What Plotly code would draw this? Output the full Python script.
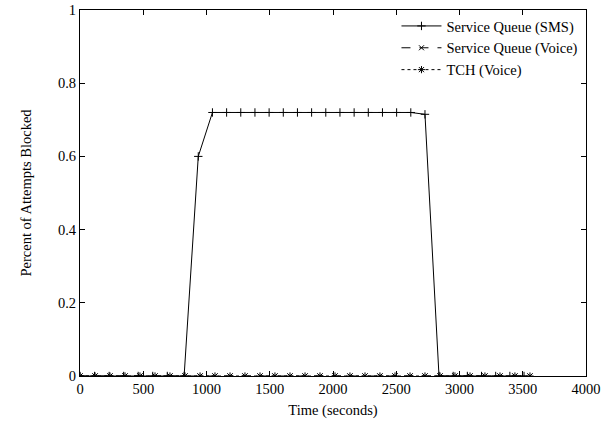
import plotly.graph_objects as go

sms_x = [0, 115, 230, 345, 460, 575, 690, 823, 935, 1047, 1159, 1271, 1383, 1495, 1607, 1719, 1831, 1943,
         2055, 2167, 2279, 2391, 2503, 2615, 2727, 2838, 2950, 3062, 3174, 3286, 3398, 3510]
sms_y = [0, 0, 0, 0, 0, 0, 0, 0, 0.6, 0.72, 0.72, 0.72, 0.72, 0.72, 0.72, 0.72, 0.72, 0.72,
         0.72, 0.72, 0.72, 0.72, 0.72, 0.72, 0.715, 0, 0, 0, 0, 0, 0, 0]
voice_x = [0, 119, 237, 356, 474, 593, 711, 830, 949, 1067, 1186, 1304, 1423, 1541, 1660, 1779,
           1897, 2016, 2134, 2253, 2371, 2490, 2609, 2727, 2846, 2964, 3083, 3201, 3320, 3438, 3557]
voice_y = [0] * len(voice_x)
tch_y = [0] * len(voice_x)

font = dict(family="Liberation Serif, Times New Roman, serif", size=14.5, color="black")
fig = go.Figure()
fig.add_trace(go.Scatter(x=sms_x, y=sms_y, mode="lines+markers", name="Service Queue (SMS)",
                         line=dict(color="black", width=1),
                         marker=dict(symbol="cross-thin", size=6, line=dict(color="black", width=1))))
fig.add_trace(go.Scatter(x=voice_x, y=voice_y, mode="lines+markers", name="Service Queue (Voice)",
                         line=dict(color="black", width=1, dash="dash"),
                         marker=dict(symbol="x-thin", size=5, line=dict(color="black", width=1))))
fig.add_trace(go.Scatter(x=voice_x, y=tch_y, mode="lines+markers", name="TCH (Voice)",
                         line=dict(color="black", width=1, dash="dot"),
                         marker=dict(symbol="asterisk", size=6, line=dict(color="black", width=1))))
ax = dict(showgrid=False, zeroline=False, showline=True, mirror="ticks", linecolor="black",
          ticks="inside", ticklen=5, tickcolor="black", tickfont=font, automargin=False)
fig.update_layout(width=608, height=426, paper_bgcolor="white", plot_bgcolor="white", font=font,
                  margin=dict(l=80, r=22, t=10, b=50), showlegend=True,
                  legend=dict(x=0.995, y=1.0, xanchor="right", yanchor="top", bgcolor="rgba(0,0,0,0)",
                              font=font, itemwidth=40, tracegroupgap=0))
fig.update_xaxes(range=[0, 4000], dtick=500, title=dict(text="Time (seconds)", font=font, standoff=8), **ax)
fig.update_yaxes(range=[0, 1], dtick=0.2, title=dict(text="Percent of Attempts Blocked", font=font, standoff=22), **ax)
fig.write_html("out.html", config={"displayModeBar": False},
               post_script="document.body.style.margin='0';document.body.style.overflow='hidden';")
